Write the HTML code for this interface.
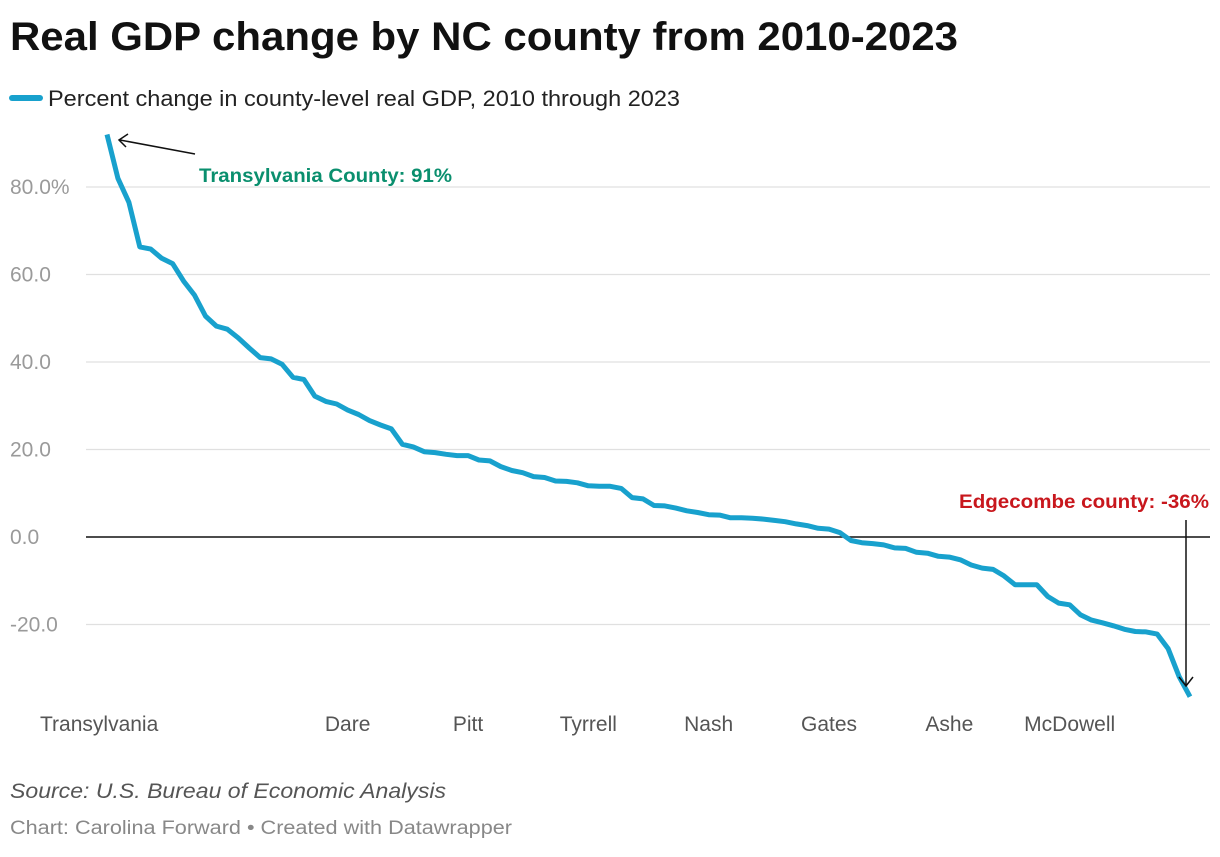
<!DOCTYPE html>
<html><head><meta charset="utf-8"><style>
body{margin:0;background:#fff;width:1220px;height:852px;overflow:hidden;font-family:"Liberation Sans",sans-serif}
</style></head><body>
<svg width="1220" height="852" xmlns="http://www.w3.org/2000/svg">
<text x="10" y="50" font-size="40" font-weight="bold" fill="#111" textLength="948" lengthAdjust="spacingAndGlyphs">Real GDP change by NC county from 2010-2023</text>
<g>
<line x1="12" y1="98" x2="40" y2="98" stroke="#18a1cd" stroke-width="6" stroke-linecap="round"/>
<text x="48" y="106" font-size="22" fill="#222" textLength="632" lengthAdjust="spacingAndGlyphs">Percent change in county-level real GDP, 2010 through 2023</text>
</g>
<g id="grid"></g><g id="xlabels"></g>
<path id="line" fill="none" stroke="#18a1cd" stroke-width="5" stroke-linejoin="round"/>
<g>
<line x1="195" y1="154" x2="120" y2="140" stroke="#111" stroke-width="1.5"/>
<polyline points="128,134 119,140 126,147" fill="none" stroke="#111" stroke-width="1.5"/>
<text x="199" y="182" font-size="19" font-weight="bold" fill="#0a8f6e" textLength="253" lengthAdjust="spacingAndGlyphs">Transylvania County: 91%</text>
</g>
<g>
<line x1="1186" y1="520" x2="1186" y2="686" stroke="#111" stroke-width="1.5"/>
<polyline points="1179,677 1186,686 1193,677" fill="none" stroke="#111" stroke-width="1.5"/>
<text x="959" y="508" font-size="19" font-weight="bold" fill="#c8171d" textLength="250" lengthAdjust="spacingAndGlyphs">Edgecombe county: -36%</text>
</g>
<text x="10" y="798" font-size="21" font-style="italic" fill="#555" textLength="436" lengthAdjust="spacingAndGlyphs">Source: U.S. Bureau of Economic Analysis</text>
<text x="10" y="834" font-size="19" fill="#888" textLength="502" lengthAdjust="spacingAndGlyphs">Chart: Carolina Forward • Created with Datawrapper</text>
</svg>
<script>
const values=[92,82,76.5,66.3,65.8,63.7,62.5,58.5,55.3,50.5,48.2,47.5,45.5,43.2,41,40.7,39.5,36.5,36,32.2,31,30.4,29,28,26.6,25.6,24.7,21.2,20.6,19.5,19.3,18.9,18.6,18.6,17.6,17.4,16.1,15.2,14.7,13.8,13.6,12.8,12.7,12.4,11.7,11.6,11.6,11.1,9.0,8.7,7.2,7.1,6.6,6.0,5.6,5.1,5.0,4.4,4.4,4.3,4.1,3.8,3.5,3.0,2.6,2.0,1.8,1.0,-0.8,-1.3,-1.5,-1.8,-2.5,-2.6,-3.5,-3.7,-4.4,-4.6,-5.2,-6.4,-7.1,-7.4,-8.9,-10.9,-10.9,-10.9,-13.6,-15.1,-15.5,-17.8,-19,-19.6,-20.3,-21.1,-21.6,-21.7,-22.2,-25.5,-31.9,-36.5];
const yTicks=[80,60,40,20,0,-20];
const yTickLabels=["80.0%","60.0","40.0","20.0","0.0","-20.0"];
const xLabelIdx=[0,22,33,44,55,66,77,88];
const xLabels=["Transylvania","Dare","Pitt","Tyrrell","Nash","Gates","Ashe","McDowell"];
const NS="http://www.w3.org/2000/svg";
const x=i=>107+i*(1190-107)/(values.length-1);
const y=v=>537-v*4.375;
const grid=document.getElementById('grid');
yTicks.forEach((t,k)=>{
 const l=document.createElementNS(NS,'line');
 l.setAttribute('x1',86);l.setAttribute('x2',1210);l.setAttribute('y1',y(t));l.setAttribute('y2',y(t));
 l.setAttribute('stroke',t===0?'#111':'#e0e0e0');l.setAttribute('stroke-width',t===0?1.5:1.2);
 
 
 grid.appendChild(l);
 const tx=document.createElementNS(NS,'text');
 tx.setAttribute('x',10);tx.setAttribute('y',y(t)+7);tx.setAttribute('font-size','21');tx.setAttribute('fill','#9a9a9a');
 tx.textContent=yTickLabels[k];
 
 
 grid.appendChild(tx);
});
const xg=document.getElementById('xlabels');
xLabelIdx.forEach((idx,k)=>{
 const tx=document.createElementNS(NS,'text');
 tx.setAttribute('x',k===0?40:x(idx));tx.setAttribute('y',731);tx.setAttribute('font-size','21');tx.setAttribute('fill','#555');
 tx.setAttribute('text-anchor',k===0?'start':'middle');
 tx.textContent=xLabels[k];
 
 
 xg.appendChild(tx);
});
document.getElementById('line').setAttribute('d',values.map((v,i)=>(i?'L':'M')+x(i).toFixed(1)+','+y(v).toFixed(1)).join(''));
</script>
</body></html>
